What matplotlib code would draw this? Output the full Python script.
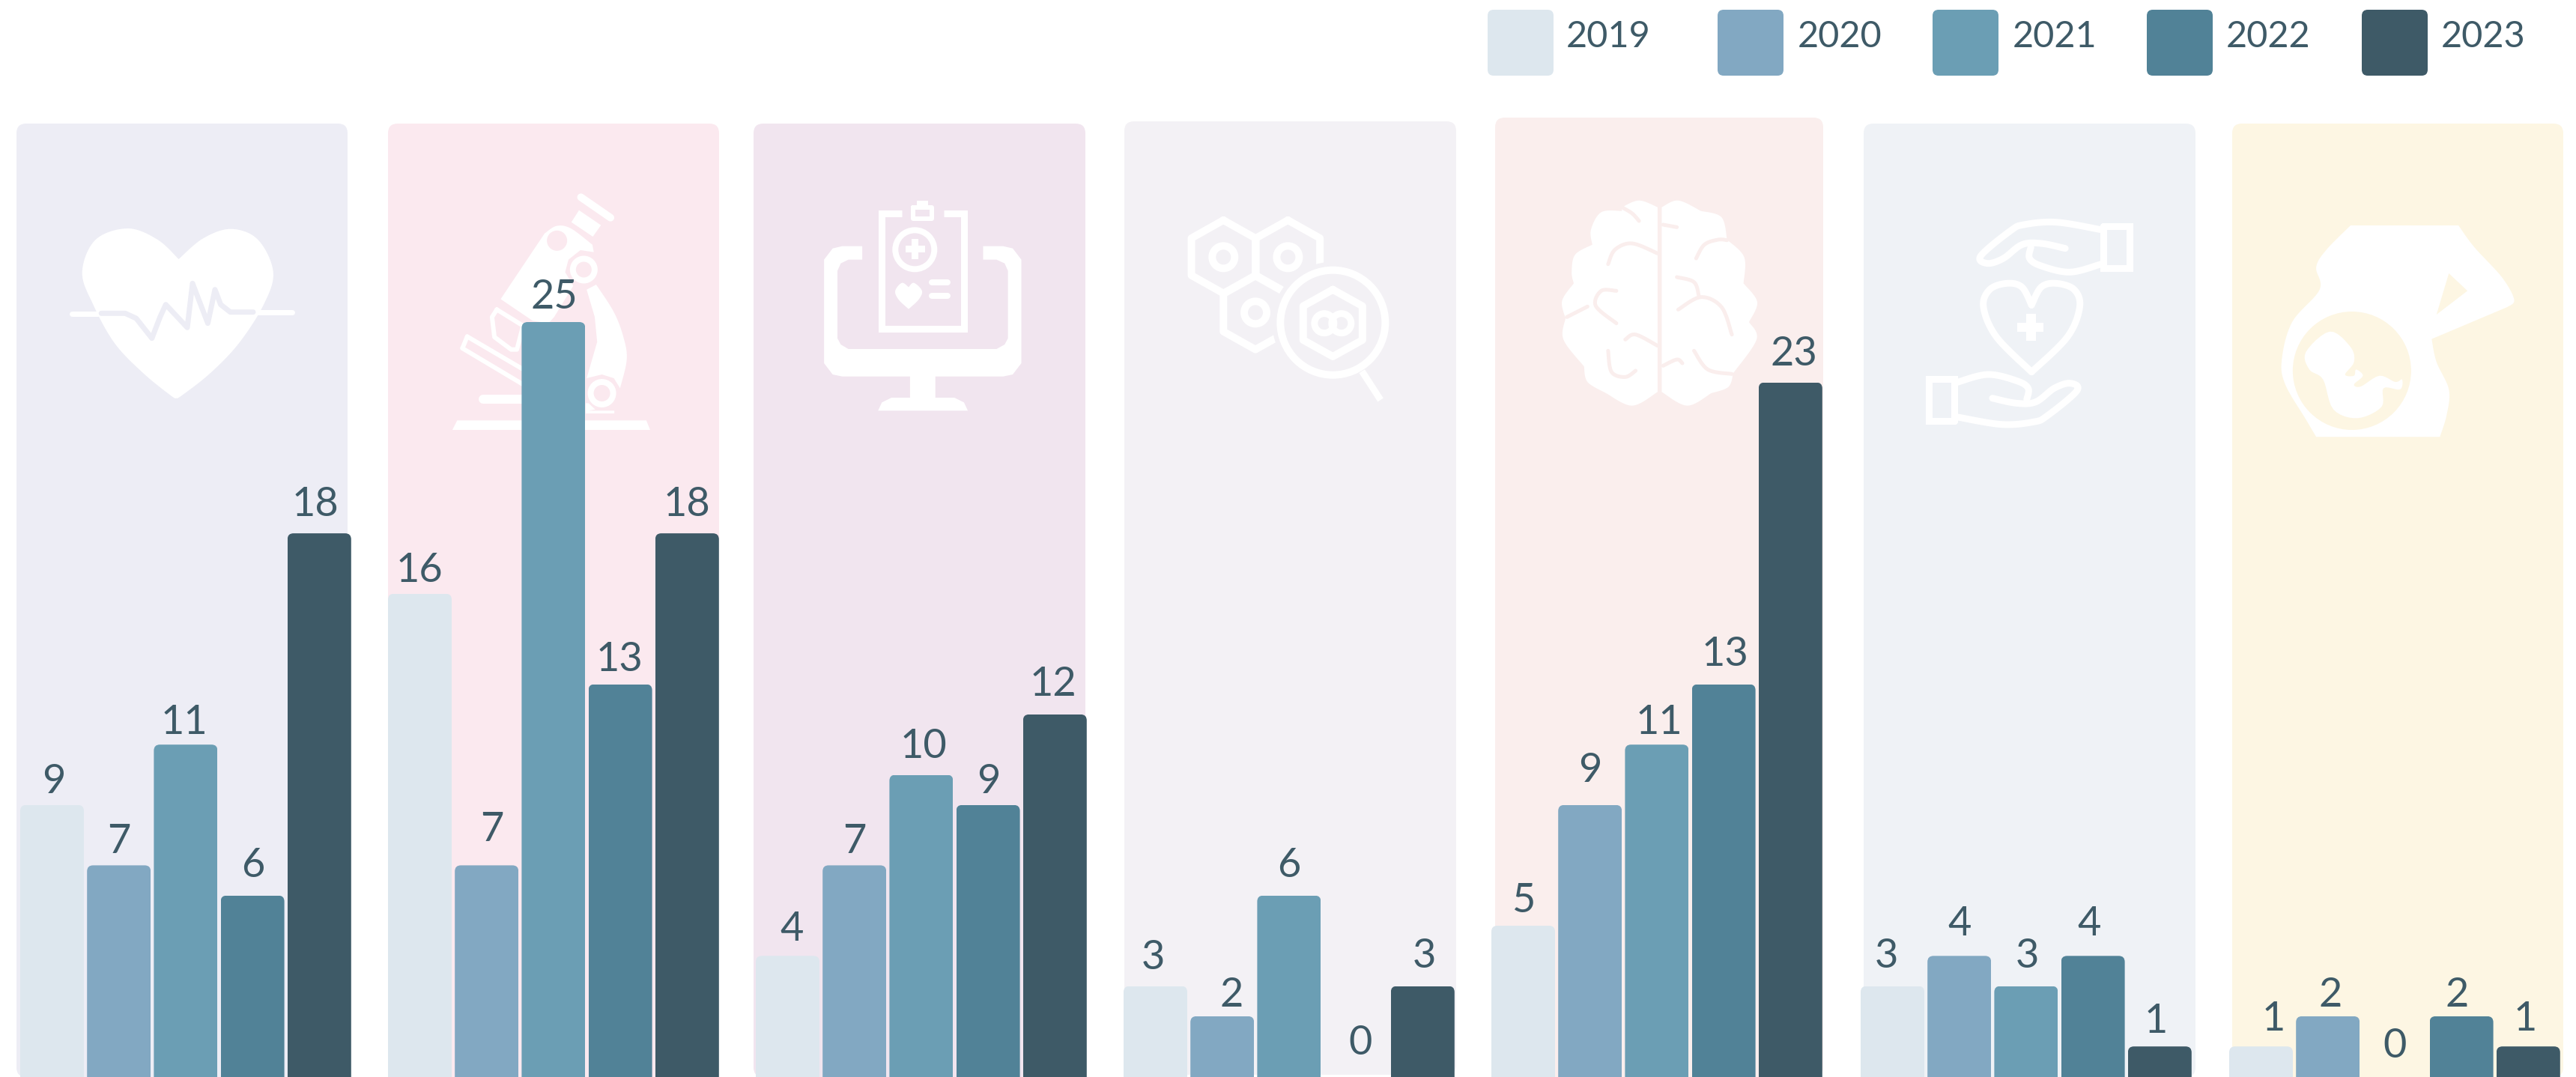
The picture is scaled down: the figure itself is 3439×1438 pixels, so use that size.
import matplotlib
matplotlib.use("Agg")
import matplotlib.pyplot as plt
import numpy as np
from matplotlib.path import Path
from matplotlib.patches import FancyBboxPatch, Polygon, Ellipse, Circle

plt.rcParams['font.family'] = ['Lato', 'DejaVu Sans']

# ---------- data ----------
years = ['2019', '2020', '2021', '2022', '2023']
cardiology = [9, 7, 11, 6, 18]
research = [16, 7, 25, 13, 18]
digital = [4, 7, 10, 9, 12]
genetics = [3, 2, 6, 0, 3]
neurology = [5, 9, 11, 13, 23]
care = [3, 4, 3, 4, 1]
maternity = [1, 2, 0, 2, 1]
groups = [cardiology, research, digital, genetics, neurology, care, maternity]

# ---------- style and layout ----------
W, H = 3439, 1438
year_colors = ['#DDE7EE', '#82A8C2', '#6B9EB4', '#518297', '#3E5A67']
text_color = '#3E5A67'
panel_colors = ['#EDEDF5', '#FBE9EF', '#F1E5EF', '#F3F1F5', '#FAEEED', '#EFF2F6', '#FDF6E3']
panel_left = [22, 518, 1006, 1501, 1996, 2488, 2980]
panel_right = [464, 960, 1449, 1944, 2434, 2931, 3422]
panel_top = [165, 165, 165, 162, 157, 165, 165]
panel_bottom = [1438, 1438, 1438, 1435, 1438, 1438, 1438]
bars_left = [27, 518, 1009, 1500, 1991, 2484, 2976]
BAR_W, BAR_STEP = 85, 89.2
PX_PER_UNIT = 40.3
BASE_PX = 1437.5
swatch_left = [1986, 2293, 2580, 2866, 3153]
label_left = [2091, 2400, 2687, 2972, 3259]
# hand-placed label nudges in the reference, pixels (right, up) beyond the standard spot
nudge_x = [[2, 0, -2, 1, -5], [-1, 7, 1, -1, 0], [6, 0, 3, 1, -2], [-3, 12, 0, 6, 2],
           [0, 0, 3, 2, 5], [-8, 0, 2, -5, -5], [17, 3, 0, -6, -4]]
nudge_y = [[0, 0, -2, 9, 7], [0, 16, 2, 2, 7], [4, 0, 7, 0, 9], [7, -3, 9, 14, 9],
           [2, 15, -2, 9, 7], [9, 11, 9, 11, 2], [5, -3, 10, -3, 5]]
LABEL_GAP = 16

fig = plt.figure(figsize=(W / 100, H / 100), dpi=100, facecolor='white')
deco = fig.add_axes([0, 0, 1, 1])
deco.set_xlim(0, W)
deco.set_ylim(H, 0)
deco.axis('off')
ax = fig.add_axes([0, 0, 1, 1], zorder=5)
ax.patch.set_alpha(0)
ax.set_xlim(0, W)
ax.set_ylim(-(H - BASE_PX) / PX_PER_UNIT, BASE_PX / PX_PER_UNIT)
ax.axis('off')

def lw(px):
    return px * 0.72

def conv(pts, x0, y0, sx, sy=3.0):
    return [(x0 + p[0] / sx, y0 + p[1] / sy) for p in pts]

def smooth_path(pts, closed=True, n=10):
    P = np.array(pts, float)
    m = len(P)
    out = []
    rng = range(m) if closed else range(m - 1)
    for i in rng:
        if closed:
            p0, p1, p2, p3 = P[(i - 1) % m], P[i], P[(i + 1) % m], P[(i + 2) % m]
        else:
            p0, p1, p2, p3 = P[max(i - 1, 0)], P[i], P[i + 1], P[min(i + 2, m - 1)]
        for t in np.linspace(0, 1, n, endpoint=False):
            out.append(0.5 * (2 * p1 + (p2 - p0) * t + (2 * p0 - 5 * p1 + 4 * p2 - p3) * t ** 2
                              + (3 * p1 - p0 - 3 * p2 + p3) * t ** 3))
    if not closed:
        out.append(P[-1])
    return np.array(out)

def outline(segments, z):
    """Join smooth open segments, keeping sharp corners where they meet."""
    return np.vstack([smooth_path(z(s), closed=False) for s in segments])

def fill_poly(pts, color='white', z=2):
    deco.add_patch(Polygon(np.array(pts), closed=True, fc=color, ec='none', zorder=z))

def stroke(pts, px, color='white', z=2, closed=False, cap='round', join='round'):
    arr = np.array(pts)
    if closed:
        arr = np.vstack([arr, arr[0]])
    deco.plot(arr[:, 0], arr[:, 1], color=color, lw=lw(px), solid_capstyle=cap,
              solid_joinstyle=join, zorder=z)

def ring(c, r, px, color='white', face='none', z=2):
    deco.add_patch(Circle(c, r, fc=face, ec=color, lw=lw(px), zorder=z))

def disc(c, r, color='white', z=2):
    deco.add_patch(Circle(c, r, fc=color, ec='none', zorder=z))

# ---------- panels ----------
for left, right, top, bottom, col in zip(panel_left, panel_right, panel_top, panel_bottom, panel_colors):
    deco.add_patch(FancyBboxPatch((left, top), right - left, bottom - top,
                                  boxstyle='round,pad=0,rounding_size=13',
                                  fc=col, ec='none', zorder=1))

# ---------- icon 1: heart ----------
def z1(p):
    return conv(p, 0, 130, 1.568)

pc = panel_colors[0]
fill_poly(outline([[(374, 648), (425, 565), (484, 527), (540, 570), (572, 700), (552, 830),
                    (500, 985), (440, 1105), (380, 1195), (369, 1205)],
                   [(369, 1205), (358, 1195), (300, 1105), (240, 985), (195, 830), (172, 700),
                    (200, 570), (268, 525), (330, 570), (374, 648)]], z1))
stroke(z1([(150, 866), (205, 866)]), 7)
stroke(z1([(540, 860), (612, 860)]), 7)
stroke(z1([(212, 865), (262, 865), (285, 885), (318, 965), (335, 880), (347, 830), (392, 922),
           (403, 745), (435, 905), (450, 770), (462, 830), (482, 860), (530, 860)]), 7, color=pc, z=3)

# ---------- icon 2: microscope ----------
pc = panel_colors[1]
fill_poly(z1([(947, 1332), (957, 1294), (1353, 1294), (1361, 1332)]))
stroke(z1([(1216, 400), (1278, 482)]), 10)
fill_poly(z1([(1212, 452), (1258, 512), (1241, 558), (1196, 500)]))
fill_poly(smooth_path(z1([(1140, 545), (1165, 515), (1195, 525), (1240, 590)]), closed=False).tolist()
          + z1([(1243, 620), (1215, 612), (1190, 650), (1183, 700), (1200, 755), (1160, 880),
                (1148, 905), (1115, 895), (1048, 808)]))
deco.add_patch(Ellipse(z1([(1166, 574)])[0], 27, 27, fc=pc, ec='none', zorder=3))
ring(z1([(1222, 690)])[0], 14.5, 8)
fill_poly(smooth_path(z1([(1248, 750), (1285, 860), (1305, 960), (1312, 1050), (1298, 1165)]),
                      closed=False).tolist()
          + z1([(1285, 1125), (1260, 1110), (1228, 1125), (1250, 980), (1245, 880), (1228, 770)]))
ring(z1([(1260, 1185)])[0], 15, 8)
fill_poly(z1([(1226, 1225), (1232, 1225), (1246, 1250), (1232, 1255), (1286, 1255), (1286, 1266), (1226, 1266)]))
stroke(z1([(1012, 1208), (1100, 1208)]), 12)
stroke(z1([(1040, 850), (1095, 915), (1082, 1010), (1070, 1010), (1035, 960), (1030, 880)]), 6, closed=True)
stroke(z1([(978, 958), (1100, 1095)]), 6)
stroke(z1([(968, 1005), (1095, 1150)]), 6)
stroke(z1([(978, 958), (968, 1005)]), 6)

# ---------- icon 3: monitor with clipboard ----------
def z2(p):
    return conv(p, 1000, 130, 1.568)

frame = [(237, 596), (195, 596), (175, 605), (157, 650), (157, 1065), (175, 1110), (195, 1118),
         (337, 1118), (337, 1203), (298, 1203), (278, 1222), (270, 1255), (458, 1255), (450, 1222),
         (430, 1203), (390, 1203), (390, 1118), (532, 1118), (552, 1110), (570, 1065), (570, 650),
         (552, 605), (532, 596), (490, 596), (490, 650), (518, 650), (535, 665), (542, 695),
         (542, 965), (535, 990), (518, 1008), (208, 1008), (192, 990), (185, 965), (185, 695),
         (192, 665), (208, 650), (237, 650)]
fill_poly(z2(frame))
stroke(z2([(320, 466), (278, 466), (278, 927), (450, 927), (450, 466), (408, 466)]), 9, join='miter', cap='butt')
stroke(z2([(343, 440), (383, 440), (383, 487), (343, 487)]), 6, closed=True)
fill_poly(z2([(352, 414), (375, 414), (375, 434), (352, 434)]))
ring(z2([(347, 610)])[0], 26, 8)
fill_poly(z2([(340, 567), (354, 567), (354, 594), (368, 594), (368, 620), (354, 620), (354, 647),
              (340, 647), (340, 620), (327, 620), (327, 594), (340, 594)]))
fill_poly(outline([[(334, 760), (345, 743), (362, 775), (355, 810), (334, 848)],
                   [(334, 848), (313, 810), (306, 775), (320, 743), (334, 760)]], z2))
stroke(z2([(382, 741), (416, 741)]), 8)
stroke(z2([(382, 795), (416, 795)]), 8)

# ---------- icon 4: hexagons and magnifier ----------
def hexagon(cx, top, bottom, half, inset):
    return z2([(cx, top), (cx + half, top + inset), (cx + half, bottom - inset), (cx, bottom),
               (cx - half, bottom - inset), (cx - half, top + inset)])

pc = panel_colors[3]
stroke(hexagon(993, 492, 785, 67, 72), 10, closed=True)
stroke(hexagon(1128, 492, 785, 67, 72), 10, closed=True)
stroke(hexagon(1060, 715, 1010, 67, 72), 10, closed=True)
for c in [(993, 640), (1128, 640), (1060, 862)]:
    ring(z2([c])[0], 15, 10)
mag = z2([(1222, 902)])[0]
disc(mag, 81, color=pc, z=3)
ring(mag, 70, 10, z=4)
stroke(hexagon(1222, 770, 1038, 62, 66), 10, closed=True, z=4)
ring(z2([(1204, 905)])[0], 13, 9, z=4)
ring(z2([(1240, 905)])[0], 13, 9, z=4)
stroke(z2([(1283, 1097), (1322, 1212)]), 9, z=4, cap='butt')

# ---------- icon 5: brain ----------
def z3(p):
    return conv(p, 2000, 130, 1.0896)

pc = panel_colors[4]
left_lobes = [[(232, 440), (205, 413), (180, 440)],
              [(180, 455), (150, 460), (135, 530), (137, 590)],
              [(137, 590), (112, 630), (107, 700), (110, 745)],
              [(110, 745), (93, 815), (98, 885)],
              [(98, 885), (95, 970), (125, 1078)],
              [(125, 1078), (130, 1140), (157, 1185)],
              [(157, 1185), (195, 1235), (232, 1180)]]
right_lobes = [[(238, 440), (262, 413), (295, 455)],
               [(295, 455), (325, 480), (333, 570)],
               [(333, 570), (358, 640), (357, 745)],
               [(357, 745), (377, 820), (365, 900)],
               [(365, 900), (376, 970), (342, 1105)],
               [(342, 1105), (335, 1160), (310, 1185)],
               [(310, 1185), (275, 1235), (238, 1180)]]
fill_poly(outline(left_lobes, z3))
fill_poly(outline(right_lobes, z3))
creases = [[(160, 668), (170, 610), (195, 585), (232, 625)],
           [(205, 495), (195, 465), (180, 440)],
           [(260, 520), (240, 510)],
           [(288, 645), (300, 590), (320, 570), (333, 572)],
           [(172, 775), (150, 775), (142, 835), (172, 905)],
           [(260, 720), (285, 740), (292, 795)],
           [(262, 850), (295, 800), (325, 840), (340, 950)],
           [(100, 880), (130, 838)],
           [(185, 970), (200, 950), (232, 995)],
           [(160, 1015), (165, 1100), (185, 1120), (200, 1095)],
           [(285, 1015), (305, 1090), (340, 1108)],
           [(240, 1075), (260, 1050), (268, 1065)]]
for cr in creases:
    stroke(smooth_path(z3(cr), closed=False), 5, color=pc, z=3)

# ---------- icon 6: hands and heart ----------
def mirror(pts):
    return [(1544 - x, 1810 - y) for x, y in pts]

cuff = [(880, 515), (918, 515), (918, 683), (880, 683)]
hand_a = [(877, 530), (812, 500), (765, 510), (745, 535), (702, 635), (712, 665), (735, 645),
          (762, 590), (790, 585), (825, 605)]
hand_b = [(775, 600), (773, 645), (790, 675), (832, 700), (877, 668)]
for pts in (lambda p: p, mirror):
    stroke(z3(pts(cuff)), 9, closed=True, join='miter')
    stroke(smooth_path(z3(pts(hand_a)), closed=False), 9)
    stroke(smooth_path(z3(pts(hand_b)), closed=False), 9)
stroke(smooth_path(z3([(776, 832), (762, 760), (740, 745), (715, 770), (706, 840), (725, 960), (776, 1100)]),
                   closed=False), 9)
stroke(smooth_path(z3([(776, 832), (790, 760), (812, 745), (838, 770), (846, 840), (828, 960), (776, 1100)]),
                   closed=False), 9)
fill_poly(z3([(768, 868), (782, 868), (782, 903), (793, 903), (793, 940), (782, 940), (782, 975),
              (768, 975), (768, 940), (755, 940), (755, 903), (768, 903)]))

# ---------- icon 7: pregnant belly ----------
pc = panel_colors[6]
body = [[(1397, 513), (1420, 600), (1460, 720), (1478, 810), (1468, 840)],
        [(1468, 840), (1358, 968)],
        [(1358, 968), (1365, 1060), (1383, 1170), (1380, 1270), (1370, 1360)],
        [(1370, 1360), (1190, 1360)],
        [(1190, 1360), (1175, 1290), (1145, 1150), (1140, 1050), (1155, 900), (1195, 770),
         (1190, 680), (1205, 610), (1240, 513)]]
fill_poly(outline(body, z3))
fill_poly(z3([(1383, 705), (1410, 775), (1365, 870)]), color=pc, z=3)
deco.add_patch(Ellipse(z3([(1242, 1095)])[0], 158, 158, fc=pc, ec='none', zorder=3))
fetus = [(1175, 1020), (1210, 938), (1240, 1000), (1245, 1060), (1232, 1110), (1245, 1115),
         (1248, 1090), (1258, 1115), (1245, 1150), (1255, 1158), (1282, 1115), (1305, 1140),
         (1315, 1130), (1312, 1170), (1288, 1165), (1285, 1240), (1250, 1285), (1215, 1250),
         (1200, 1130), (1180, 1090)]
fill_poly(smooth_path(z3(fetus), n=6), z=4)

# ---------- bars ----------
def top_round_clip(x0, x1, h, rpx=8):
    ry = rpx / PX_PER_UNIT
    low = -5
    verts = [(x0, low), (x0, h - ry), (x0, h), (x0 + rpx, h), (x1 - rpx, h), (x1, h), (x1, h - ry),
             (x1, low), (x0, low)]
    codes = [Path.MOVETO, Path.LINETO, Path.CURVE3, Path.CURVE3, Path.LINETO, Path.CURVE3, Path.CURVE3,
             Path.LINETO, Path.CLOSEPOLY]
    return Path(verts, codes)

for values, start, nx, ny in zip(groups, bars_left, nudge_x, nudge_y):
    lefts = [start + i * BAR_STEP for i in range(len(values))]
    bars = ax.bar(lefts, values, width=BAR_W, align='edge', color=year_colors, linewidth=0, zorder=3)
    for rect, x0, v, dx, dy in zip(bars, lefts, values, nx, ny):
        if v > 0:
            rect.set_clip_path(top_round_clip(x0, x0 + BAR_W, v), ax.transData)
        ax.annotate(str(v), (x0 + BAR_W / 2, v), xytext=(lw(dx), lw(LABEL_GAP + dy)),
                    textcoords='offset points', ha='center', va='baseline', fontsize=39,
                    color=text_color, zorder=6)

# ---------- legend ----------
for year, col, sx, tx in zip(years, year_colors, swatch_left, label_left):
    deco.add_patch(FancyBboxPatch((sx, 13), 88, 88, boxstyle='round,pad=0,rounding_size=8',
                                  fc=col, ec='none', zorder=2))
    deco.text(tx, 63, year, fontsize=35, color=text_color, ha='left', va='baseline', zorder=3)

fig.savefig('out.png', dpi=100, facecolor='white')
